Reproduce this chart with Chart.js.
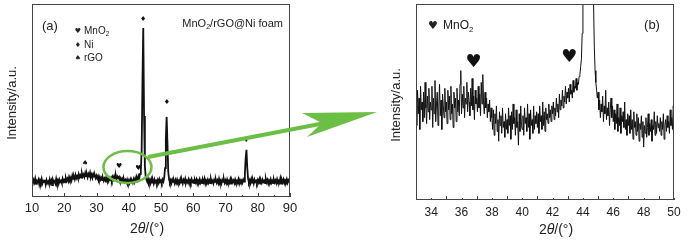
<!DOCTYPE html>
<html lang="en">
  <head>
    <meta charset="UTF-8" />
    <title>XRD MnO2/rGO@Ni foam</title>
  </head>
  <style>
    * {
      margin: 0;
      padding: 0;
    }
    body {
      width: 694px;
      height: 241px;
      background: white;
      position: relative;
      overflow: hidden;
    }
    #chartA {
      position: absolute;
      left: 0;
      top: 0;
    }
    #chartB {
      position: absolute;
      left: 380px;
      top: 0;
    }
  </style>
  <body>
    <canvas id="chartA" width="694" height="241"></canvas>
    <canvas id="chartB" width="314" height="241"></canvas>

    <script src="https://cdn.jsdelivr.net/npm/chart.js"></script>

    <script>
      // data block - panel (a), 10-90 deg, step 0.25
      const aTheta0 = 10;
      const aStep = 0.25;
      const aIntensity = [
        92, 70, 88, 75, 95, 68, 84, 79, 90, 66, 86, 74, 93, 71, 83, 77, 89, 65, 87, 72,
        80, 68, 91, 73, 85, 62, 88, 76, 82, 70, 94, 74, 86, 69, 90, 78, 84, 72, 95, 80,
        88, 76, 98, 84, 95, 82, 104, 90, 100, 86, 110, 94, 106, 92, 114, 98, 108, 96, 118, 102,
        112, 100, 122, 106, 116, 104, 124, 108, 118, 102, 120, 110, 126, 104, 116, 100, 118, 106, 112, 98,
        110, 96, 108, 92, 104, 90, 100, 88, 98, 84, 96, 86, 102, 88, 94, 82, 98, 90, 100, 86,
        104, 92, 108, 96, 112, 94, 106, 98, 104, 88, 98, 84, 94, 80, 92, 78, 88, 76, 90, 74,
        86, 72, 90, 76, 84, 74, 92, 78, 96, 82, 100, 88, 108, 96, 120, 140, 240, 600, 876, 420,
        160, 105, 90, 78, 94, 76, 88, 72, 92, 74, 86, 70, 90, 76, 84, 72, 88, 74, 92, 78,
        86, 74, 90, 80, 100, 150, 300, 415, 280, 130, 92, 76, 88, 72, 90, 78, 84, 70, 88, 74,
        90, 76, 84, 72, 92, 74, 86, 70, 88, 78, 94, 72, 84, 76, 90, 70, 86, 74, 92, 78,
        84, 72, 88, 76, 90, 70, 86, 78, 92, 74, 84, 72, 88, 76, 94, 70, 86, 78, 90, 74,
        86, 72, 92, 76, 84, 70, 88, 78, 90, 74, 86, 72, 94, 76, 84, 70, 88, 78, 92, 74,
        86, 72, 90, 76, 84, 74, 92, 70, 88, 78, 86, 72, 90, 76, 84, 74, 92, 70, 88, 78,
        86, 74, 90, 80, 120, 200, 244, 150, 95, 76, 88, 72, 92, 74, 86, 70, 90, 78, 84, 72,
        88, 76, 92, 70, 86, 74, 90, 78, 84, 72, 94, 76, 88, 70, 86, 78, 92, 74, 84, 72,
        90, 76, 86, 72, 92, 78, 84, 74, 96, 70, 88, 76, 90, 72, 86, 78, 92, 74, 88, 80,
        84
      ];

      // panel (b), 33-50 deg, step 0.05
      const bTheta0 = 33;
      const bStep = 0.05;
      const bIntensity = [
        48, 38, 56, 44, 52, 36, 58, 46, 50, 40, 55, 42, 60, 47, 39, 53, 45, 57, 41, 50,
        46, 58, 37, 52, 44, 61, 40, 49, 55, 38, 47, 59, 43, 51, 36, 54, 48, 42, 57, 45,
        50, 39, 56, 46, 53, 41, 58, 44, 49, 37, 55, 47, 52, 40, 57, 45, 51, 43, 59, 66,
        44, 54, 47, 58, 42, 52, 49, 60, 45, 55, 50, 43, 57, 48, 62, 46, 53, 41, 56, 49,
        52, 45, 58, 47, 54, 43, 60, 49, 64, 50, 44, 55, 47, 52, 42, 49, 45, 51, 40, 47,
        42, 36, 46, 33, 44, 39, 48, 35, 41, 30, 45, 38, 43, 34, 47, 37, 40, 32, 44, 36,
        41, 34, 47, 38, 43, 31, 45, 36, 49, 39, 42, 33, 46, 37, 40, 28, 44, 35, 48, 38,
        36, 43, 33, 47, 39, 42, 35, 49, 37, 44, 31, 46, 38, 41, 34, 48, 36, 43, 39, 45,
        37, 44, 34, 48, 40, 43, 36, 50, 38, 45, 35, 47, 41, 44, 39, 49, 42, 46, 40, 48,
        44, 50, 41, 47, 43, 52, 45, 49, 42, 54, 46, 51, 48, 56, 47, 53, 50, 58, 49, 55,
        52, 57, 50, 59, 54, 56, 52, 61, 55, 58, 57, 62, 56, 60, 59, 63, 64, 68, 72, 85,
        110, 150, 200, 260, 300, 330, 340, 330, 300, 260, 220, 180, 150, 120, 100, 78, 66, 60, 56, 52,
        55, 46, 51, 42, 49, 45, 53, 40, 48, 44, 56, 41, 47, 43, 50, 38, 46, 52, 42, 48,
        40, 46, 36, 44, 39, 49, 35, 42, 38, 47, 34, 43, 40, 45, 37, 50, 36, 41, 33, 44,
        38, 43, 34, 46, 36, 41, 31, 45, 37, 40, 33, 44, 35, 42, 30, 39, 36, 43, 32, 40,
        27, 38, 34, 42, 32, 37, 44, 33, 39, 35, 41, 30, 38, 36, 45, 33, 40, 34, 43, 37,
        39, 35, 42, 33, 40, 36, 44, 31, 38, 41, 35, 43, 37, 40, 34, 46, 38, 42, 36, 48,
        44
      ];

      // phase marks (2theta, height in data units)
      const aMarks = [
        { sym: "\u2666", x: 44.5, y: 922, size: 7 },
        { sym: "\u2666", x: 51.8, y: 492, size: 7 },
        { sym: "\u2666", x: 76.4, y: 290, size: 5 },
        { sym: "\u2660", x: 26.5, y: 176, size: 7 },
        { sym: "\u2665", x: 37.0, y: 161, size: 7 },
        { sym: "\u2665", x: 43.0, y: 150, size: 7 }
      ];
      const bMarks = [
        { sym: "\u2665", x: 36.8, y: 70, size: 18 },
        { sym: "\u2665", x: 43.1, y: 73, size: 18 }
      ];

      const toPoints = (start, step, values) =>
        values.map((v, i) => ({ x: +(start + i * step).toFixed(3), y: v }));

      const FONT = "'Liberation Sans', Arial, sans-serif";
      const SYM = "'DejaVu Sans', sans-serif";

      // text with subscript parts
      function drawParts(ctx, parts, x, y, size, align) {
        ctx.textBaseline = "middle";
        ctx.textAlign = "left";
        let w = 0;
        parts.forEach((p) => {
          ctx.font = (p.it ? "italic " : "") + (p.sub ? size * 0.65 : size) + "px " + FONT;
          w += ctx.measureText(p.t).width;
        });
        let cx = align === "center" ? x - w / 2 : align === "right" ? x - w : x;
        parts.forEach((p) => {
          ctx.font = (p.it ? "italic " : "") + (p.sub ? size * 0.65 : size) + "px " + FONT;
          ctx.fillText(p.t, cx, p.sub ? y + size * 0.3 : y);
          cx += ctx.measureText(p.t).width;
        });
      }

      function drawFrame(chart, from, to, minor) {
        const { ctx, chartArea: a, scales } = chart;
        ctx.strokeStyle = "#444";
        ctx.lineWidth = 1;
        ctx.strokeRect(a.left + 0.5, a.top + 0.5, a.right - a.left - 1, a.bottom - a.top - 1);
        for (let t = from; t <= to; t += minor) {
          const px = Math.round(scales.x.getPixelForValue(t)) + 0.5;
          const major = Math.round((t - from) / minor) % 2 === 0;
          ctx.beginPath();
          ctx.moveTo(px, a.bottom);
          ctx.lineTo(px, a.bottom - (major ? 4 : 2));
          ctx.stroke();
        }
      }

      function drawMarks(chart, marks) {
        const { ctx, scales } = chart;
        ctx.fillStyle = "#111";
        ctx.textAlign = "center";
        ctx.textBaseline = "middle";
        marks.forEach((m) => {
          ctx.font = m.size + "px " + SYM;
          ctx.fillText(m.sym, scales.x.getPixelForValue(m.x), scales.y.getPixelForValue(m.y));
        });
      }

      function drawYTitle(ctx, x, y) {
        ctx.save();
        ctx.translate(x, y);
        ctx.rotate(-Math.PI / 2);
        ctx.fillStyle = "#222";
        ctx.font = "13px " + FONT;
        ctx.textAlign = "center";
        ctx.textBaseline = "middle";
        ctx.fillText("Intensity/a.u.", 0, 0);
        ctx.restore();
      }

      const xTitle = [{ t: "2" }, { t: "\u03b8", it: true }, { t: "/(\u00b0)" }];

      // decoration plugin for panel (a)
      const decorA = {
        id: "decorA",
        afterDraw(chart) {
          const { ctx, scales } = chart;
          ctx.save();
          drawFrame(chart, 10, 90, 5);
          drawMarks(chart, aMarks);
          ctx.fillStyle = "#222";
          drawParts(ctx, [{ t: "(a)" }], 42, 26, 13, "left");
          ctx.font = "7px " + SYM;
          ctx.textAlign = "center";
          ctx.fillText("\u2665", 78, 31);
          ctx.fillText("\u2666", 78, 45);
          ctx.fillText("\u2660", 78, 58);
          drawParts(ctx, [{ t: "MnO" }, { t: "2", sub: true }], 84, 31, 10, "left");
          drawParts(ctx, [{ t: "Ni" }], 84, 45, 10, "left");
          drawParts(ctx, [{ t: "rGO" }], 84, 58, 10, "left");
          drawParts(ctx, [{ t: "MnO" }, { t: "2", sub: true }, { t: "/rGO@Ni foam" }], 283, 24, 11, "right");
          drawParts(ctx, xTitle, 147, 229, 14, "center");
          drawYTitle(ctx, 12, 103);

          // zoom ellipse and arrow
          const green = "#6cbf45";
          ctx.strokeStyle = green;
          ctx.lineWidth = 2.5;
          ctx.beginPath();
          ctx.ellipse(scales.x.getPixelForValue(39.6), 167, 24, 16, 0, 0, Math.PI * 2);
          ctx.stroke();
          ctx.lineWidth = 4;
          ctx.beginPath();
          ctx.moveTo(148, 157);
          ctx.lineTo(325, 123);
          ctx.stroke();
          ctx.fillStyle = green;
          ctx.beginPath();
          ctx.moveTo(377, 112);
          ctx.lineTo(302, 113);
          ctx.lineTo(322, 123);
          ctx.lineTo(307, 137);
          ctx.closePath();
          ctx.fill();
          ctx.restore();
        }
      };

      // decoration plugin for panel (b)
      const decorB = {
        id: "decorB",
        afterDraw(chart) {
          const { ctx } = chart;
          ctx.save();
          drawFrame(chart, 33, 50, 1);
          drawMarks(chart, bMarks);
          ctx.fillStyle = "#222";
          ctx.font = "11px " + SYM;
          ctx.textAlign = "center";
          ctx.textBaseline = "middle";
          ctx.fillText("\u2665", 53, 26);
          drawParts(ctx, [{ t: "MnO" }, { t: "2", sub: true }], 63, 26, 12, "left");
          drawParts(ctx, [{ t: "(b)" }], 272, 25, 13, "center");
          drawParts(ctx, xTitle, 176, 230, 14, "center");
          drawYTitle(ctx, 16, 105);
          ctx.restore();
        }
      };

      const lineOpts = (points, width) => ({
        type: "line",
        data: {
          datasets: [
            {
              data: points,
              borderColor: "#111",
              borderWidth: width,
              pointRadius: 0,
              tension: 0
            }
          ]
        }
      });

      // config block (a)
      const configA = {
        ...lineOpts(toPoints(aTheta0, aStep, aIntensity), 1.8),
        options: {
          responsive: false,
          animation: false,
          devicePixelRatio: 1,
          layout: { padding: { left: 32, right: 404, top: 4, bottom: 0 } },
          plugins: { legend: { display: false }, tooltip: { enabled: false } },
          scales: {
            x: {
              type: "linear",
              min: 10,
              max: 90,
              grid: { display: false, drawTicks: false },
              border: { display: false },
              ticks: { stepSize: 10, padding: 4, color: "#222", font: { size: 13, family: FONT } },
              afterFit(scale) {
                scale.height = 44;
              }
            },
            y: { display: false, min: 0, max: 1000 }
          }
        },
        plugins: [decorA]
      };

      // config block (b)
      const configB = {
        ...lineOpts(toPoints(bTheta0, bStep, bIntensity), 1),
        options: {
          responsive: false,
          animation: false,
          devicePixelRatio: 1,
          layout: { padding: { left: 36, right: 20, top: 4, bottom: 0 } },
          plugins: { legend: { display: false }, tooltip: { enabled: false } },
          scales: {
            x: {
              type: "linear",
              min: 33,
              max: 50,
              grid: { display: false, drawTicks: false },
              border: { display: false },
              afterBuildTicks(scale) {
                scale.ticks = [34, 36, 38, 40, 42, 44, 46, 48, 50].map((v) => ({ value: v }));
              },
              ticks: { padding: 5, color: "#222", font: { size: 12, family: FONT } },
              afterFit(scale) {
                scale.height = 41;
              }
            },
            y: { display: false, min: 0, max: 100 }
          }
        },
        plugins: [decorB]
      };

      // init render block
      const chartA = new Chart(document.getElementById("chartA"), configA);
      const chartB = new Chart(document.getElementById("chartB"), configB);
    </script>
  </body>
</html>
